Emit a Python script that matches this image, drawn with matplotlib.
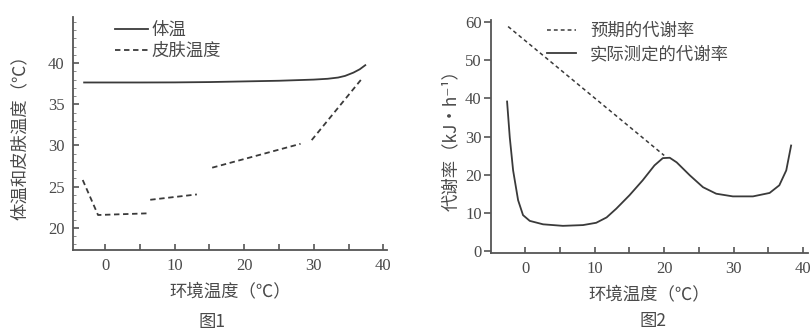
import numpy as np
import matplotlib
matplotlib.use("Agg")
import matplotlib.pyplot as plt
from matplotlib.ticker import MultipleLocator

plt.rcParams['font.family'] = ['Noto Sans CJK SC', 'DejaVu Sans']

# ---- Figure 1 data ----
body_x = [-3.0, 0, 5, 10, 15, 20, 25, 30, 32, 33.5, 34.5, 35.7, 36.6, 37.4]
body_y = [37.65, 37.65, 37.65, 37.66, 37.7, 37.78, 37.86, 38.0, 38.1, 38.25, 38.45, 38.85, 39.25, 39.75]
skin_x = [-3.2, -1.0, 6.0, np.nan, 6.5, 13.2, np.nan, 15.4, 28.1, np.nan, 29.7, 36.9]
skin_y = [25.8, 21.55, 21.75, np.nan, 23.4, 24.05, np.nan, 27.3, 30.2, np.nan, 30.65, 38.1]

# ---- Figure 2 data ----
expected_x = [-2.5, 20.0]
expected_y = [58.8, 25.1]
actual_x = [-2.65, -2.26, -1.78, -1.06, -0.35, 0.62, 2.54, 5.4, 8.3, 10.2, 11.7, 13.1,
            15.0, 16.9, 18.6, 19.8, 20.8, 21.8, 23.7, 25.6, 27.5, 29.9, 32.8, 35.2,
            36.6, 37.6, 38.3]
actual_y = [39.2, 29.8, 21.2, 13.4, 9.5, 8.0, 7.1, 6.7, 6.9, 7.5, 8.9, 11.2,
            14.7, 18.6, 22.5, 24.4, 24.5, 23.3, 19.9, 16.8, 15.1, 14.4, 14.4, 15.3,
            17.3, 21.2, 27.7]

x_ticks = [0, 10, 20, 30, 40]
y1_ticks = [20, 25, 30, 35, 40]
y2_ticks = [0, 10, 20, 30, 40, 50, 60]

lc = '#3a3a3a'
tc = '#4a4a4a'
serif = ['Liberation Serif', 'DejaVu Serif']
cfs = 12.5

fig = plt.figure(figsize=(8.11, 3.34), dpi=100)
ax1 = fig.add_axes([0.090, 0.2515, 0.387, 0.6975])
ax2 = fig.add_axes([0.606, 0.2425, 0.390, 0.6975])

for ax in (ax1, ax2):
    for s in ('top', 'right'):
        ax.spines[s].set_visible(False)
    for s in ('left', 'bottom'):
        ax.spines[s].set_color('#555555')
        ax.spines[s].set_linewidth(1.3)
    ax.set_xticks(x_ticks)
    ax.xaxis.set_minor_locator(MultipleLocator(5))
    ax.tick_params(axis='x', which='both', direction='in', length=4, color='#555555', width=1.2)
    ax.tick_params(axis='both', labelsize=12, labelcolor=tc, pad=6)

# Figure 1
ax1.plot(body_x, body_y, color=lc, lw=1.3, label='体温')
ax1.plot(skin_x, skin_y, color=lc, lw=1.3, ls=(0, (3, 2)), label='皮肤温度')
ax1.set_xlim(-4.6, 40.5)
ax1.set_ylim(17.3, 45.6)
ax1.set_yticks(y1_ticks)
ax1.yaxis.set_minor_locator(MultipleLocator(1))
ax1.tick_params(axis='y', which='major', direction='in', length=4, color='#555555', width=1.2)
ax1.tick_params(axis='y', which='minor', direction='in', length=2, color='#777777')
for lab in ax1.get_xticklabels() + ax1.get_yticklabels():
    lab.set_family(serif)
ax1.set_ylabel('体温和皮肤温度（℃）', fontsize=cfs, color=tc, labelpad=14)
ax1.set_xlabel('环境温度（℃）', fontsize=cfs, color=tc, labelpad=6)
ax1.legend(loc='upper left', bbox_to_anchor=(0.085, 1.05), frameon=False, fontsize=cfs,
           handlelength=1.9, handletextpad=0.2, labelspacing=0.15, labelcolor=tc)
fig.text(0.261, 0.01, '图1', fontsize=cfs, color=tc, ha='center', va='bottom')

# Figure 2
ax2.plot(expected_x, expected_y, color=lc, lw=1.1, ls=(0, (2.5, 2)), label='预期的代谢率')
ax2.plot(actual_x, actual_y, color=lc, lw=1.3, label='实际测定的代谢率')
ax2.set_xlim(-4.9, 40.7)
ax2.set_ylim(-0.4, 60.5)
ax2.set_yticks(y2_ticks)
ax2.tick_params(axis='y', which='major', direction='out', length=5, color='#555555',
                width=1.2, pad=2)
for lab in ax2.get_xticklabels() + ax2.get_yticklabels():
    lab.set_family(serif)
ax2.set_ylabel('代谢率（kJ·h⁻¹）', fontsize=cfs, color=tc, labelpad=4)
ax2.set_xlabel('环境温度（℃）', fontsize=cfs, color=tc, labelpad=6)
ax2.legend(loc='upper left', bbox_to_anchor=(0.125, 1.06), frameon=False, fontsize=cfs,
           handlelength=1.7, handletextpad=0.8, labelspacing=0.3, labelcolor=tc)
fig.text(0.805, 0.012, '图2', fontsize=cfs, color=tc, ha='center', va='bottom')

fig.savefig('out.png', dpi=100)
